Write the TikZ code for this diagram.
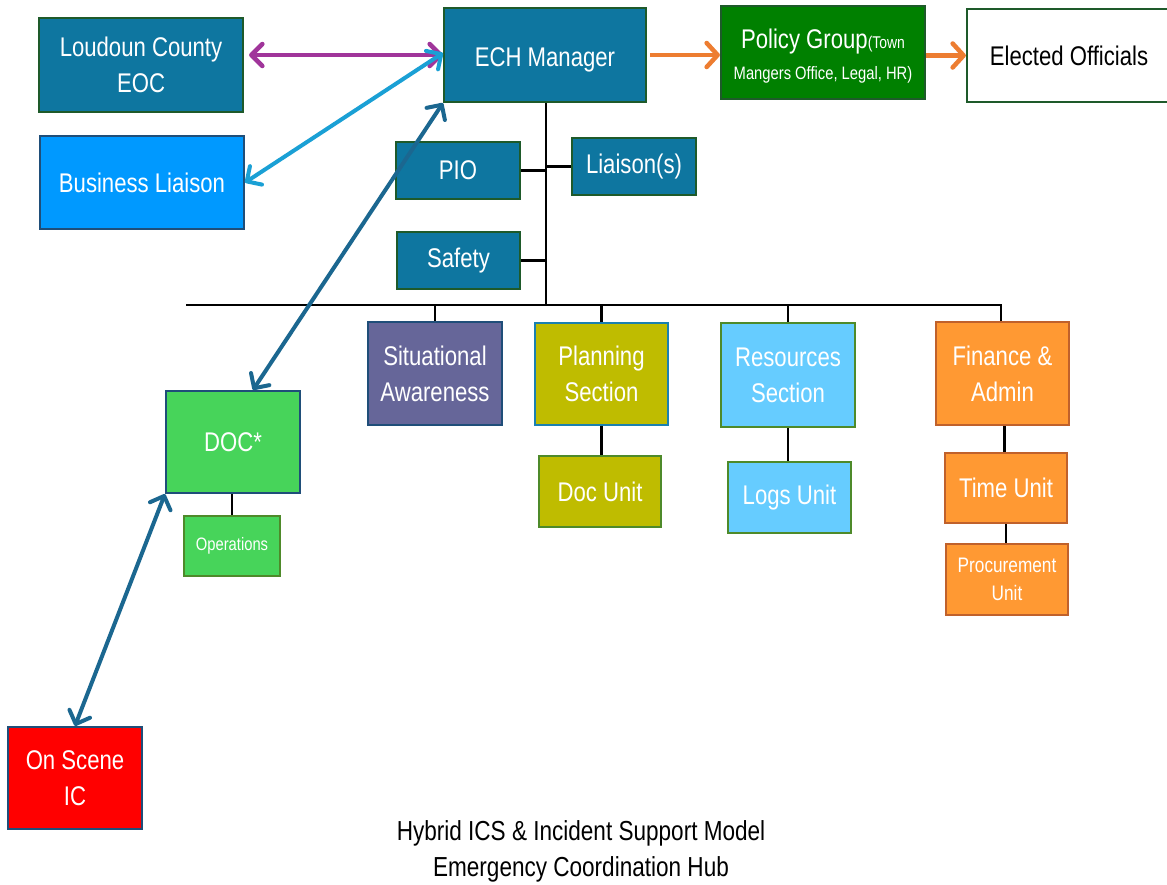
\documentclass[tikz,border=0pt]{standalone}
\usepackage{fontspec}
\setmainfont[FakeStretch=0.82]{Liberation Sans}
\usetikzlibrary{arrows.meta}
\definecolor{tealbox}{HTML}{0E76A0}
\definecolor{dkgreen}{HTML}{1E5A2A}
\definecolor{dkblue}{HTML}{1F4E79}
\definecolor{bizblue}{HTML}{0099FF}
\definecolor{polgreen}{HTML}{008000}
\definecolor{sapurple}{HTML}{666699}
\definecolor{olive}{HTML}{BFBC00}
\definecolor{planborder}{HTML}{1A80B0}
\definecolor{ltgreen}{HTML}{4E8A2A}
\definecolor{skyblue}{HTML}{66CCFF}
\definecolor{orangebox}{HTML}{FF9933}
\definecolor{orangeborder}{HTML}{C0612B}
\definecolor{docgreen}{HTML}{47D45A}
\definecolor{arrpurple}{HTML}{A0359A}
\definecolor{arrcyan}{HTML}{1AA0D5}
\definecolor{arrdark}{HTML}{1B6790}
\definecolor{arrorange}{HTML}{ED7D31}
\begin{document}
\begin{tikzpicture}[x=1pt,y=-1pt,
  box/.style={draw, line width=2.2pt, text=white, align=center, inner sep=0pt,
    font=\fontsize{27}{36}\selectfont},
  tealb/.style={box, fill=tealbox, draw=dkgreen},
  conn/.style={line width=2.6pt, black},
  dbl/.style={line width=4pt, arrows={Straight Barb[length=11pt,width=22pt,round]-Straight Barb[length=11pt,width=22pt,round]}},
  sgl/.style={line width=4.5pt, arrows={-Straight Barb[length=11pt,width=24pt,round]}}
]
\useasboundingbox (0,0) rectangle (1167,884);
\fill[white] (0,0) rectangle (1167,884);

% top row
\node[tealb, minimum width=204pt, minimum height=94pt] (loud) at (141,65) {Loudoun County\\EOC};
\node[box, fill=bizblue, draw=dkblue, minimum width=204pt, minimum height=93pt] (biz) at (142,182.5) {Business Liaison};
\node[tealb, minimum width=202pt, minimum height=94pt] (ech) at (545,55) {\raisebox{-5pt}[\height][\depth]{ECH Manager}};
\node[box, fill=polgreen, draw=dkgreen, minimum width=204pt, minimum height=93pt, font=\fontsize{27}{31}\selectfont] (policy) at (823,52.5)
  {\rule{0pt}{27pt}Policy Group{\fontsize{17}{20}\selectfont(Town}\\{\fontsize{18}{20}\selectfont Mangers Office, Legal, HR)}};
\node[box, fill=white, draw=dkgreen, text=black, minimum width=204pt, minimum height=93pt] (elected) at (1069,55.5) {Elected Officials};

% staff
\node[tealb, minimum width=124pt, minimum height=57pt] (pio) at (458,170.5) {PIO};
\node[tealb, minimum width=124pt, minimum height=57pt] (liaison) at (634,166.5) {Liaison(s)};
\node[tealb, minimum width=123pt, minimum height=57pt] (safety) at (458.5,260.5) {Safety};

% sections
\node[box, fill=sapurple, draw=dkblue, minimum width=134pt, minimum height=103pt] (sa) at (435,373.5) {Situational\\Awareness};
\node[box, fill=olive, draw=planborder, minimum width=133pt, minimum height=102pt] (plan) at (601.5,374) {Planning\\Section};
\node[box, fill=olive, draw=ltgreen, minimum width=122pt, minimum height=71pt] (docu) at (600,491.5) {Doc Unit};
\node[box, fill=skyblue, draw=ltgreen, minimum width=134pt, minimum height=104pt] (res) at (788,375) {Resources\\Section};
\node[box, fill=skyblue, draw=ltgreen, minimum width=123pt, minimum height=71pt] (logs) at (789.5,497.5) {Logs Unit};
\node[box, fill=orangebox, draw=orangeborder, minimum width=133pt, minimum height=103pt] (fin) at (1002.5,373.5) {Finance \&\\Admin};
\node[box, fill=orangebox, draw=orangeborder, minimum width=122pt, minimum height=70pt] (time) at (1006,488) {Time Unit};
\node[box, fill=orangebox, draw=orangeborder, minimum width=122pt, minimum height=71pt, font=\fontsize{21}{28}\selectfont] (proc) at (1007,579.5) {Procurement\\Unit};

% DOC side
\node[box, fill=docgreen, draw=dkblue, minimum width=134pt, minimum height=102pt] (doc) at (233,442) {DOC*};
\node[box, fill=docgreen, draw=ltgreen, minimum width=96pt, minimum height=60pt, font=\fontsize{18}{22}\selectfont] (ops) at (232,546) {Operations};
\node[box, fill=red, draw=dkblue, minimum width=134pt, minimum height=102pt] (osic) at (75,778) {On Scene\\IC};

% caption
\node[align=center, font=\fontsize{27.5}{36}\selectfont, text=black] (cap) at (581,851) {Hybrid ICS \& Incident Support Model\\Emergency Coordination Hub};

% org lines
\coordinate (busL) at (186,305);
\coordinate (busR) at (1001,305);
\coordinate (hub) at (546,305);
\draw[conn] (ech.south -| hub) -- (hub);
\draw[conn] (busL) -- (busR) -- (busR |- fin.north);
\draw[conn] (pio.east) -- (pio.east -| hub);
\draw[conn] (liaison.west) -- (liaison.west -| hub);
\draw[conn] (safety.east) -- (safety.east -| hub);
\draw[conn] (sa.north |- busL) -- (sa.north);
\draw[conn] (plan.north |- busL) -- (plan.north);
\draw[conn] (res.north |- busL) -- (res.north);
\draw[conn] (plan.south) -- (plan.south |- docu.north);
\draw[conn] (res.south) -- (res.south |- logs.north);
\draw[conn] ([xshift=2pt]fin.south) -- ([xshift=2pt]fin.south |- time.north);
\draw[conn] (time.south) -- (time.south |- proc.north);
\draw[conn] (doc.south -| ops.north) -- (ops.north);

% arrows
\draw[dbl, arrpurple, line width=4.5pt] ([xshift=5pt]loud.east |- ech.west) -- (ech.west);
\draw[dbl, arrcyan] (biz.east) -- ([yshift=2pt]ech.west);
\draw[dbl, arrdark] ([xshift=20pt]doc.north) -- (ech.south west);
\draw[dbl, arrdark] (doc.south west) -- (osic.north);
\draw[sgl, arrorange] ([xshift=3pt]ech.east) -- (ech.east -| policy.west);
\draw[sgl, arrorange] (policy.east |- elected.west) -- (elected.west);
\end{tikzpicture}
\end{document}
